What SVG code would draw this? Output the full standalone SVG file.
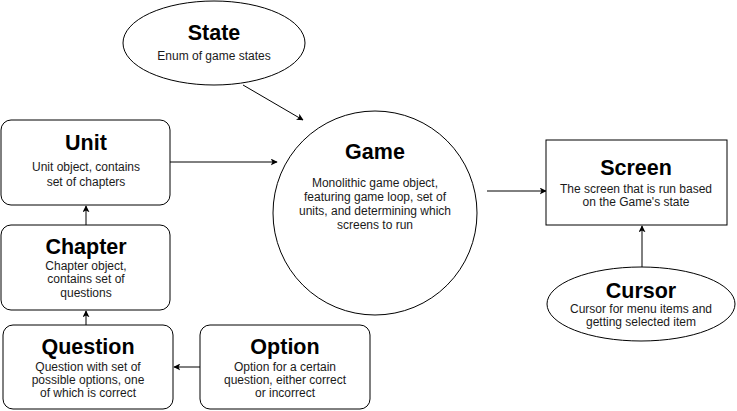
<svg xmlns="http://www.w3.org/2000/svg" width="737" height="411" viewBox="0 0 737 411">
<style>
.shape{fill:#fff;stroke:#000;stroke-width:1}
.t{font-family:"Liberation Sans",Arial,sans-serif;font-weight:bold;font-size:21.5px;text-anchor:middle;fill:#000}
.d{font-family:"Liberation Sans",Arial,sans-serif;font-size:12px;text-anchor:middle;fill:#1a1a1a}
.c{stroke:#000;stroke-width:1;fill:none;marker-end:url(#ah)}
</style>
<defs>
<marker id="ah" viewBox="0 0 10 10" refX="9" refY="5" markerWidth="7" markerHeight="7" markerUnits="userSpaceOnUse" orient="auto">
<path d="M0,0 L10,5 L0,10 L2.5,5 Z" fill="#000"/>
</marker>
</defs>
<rect width="737" height="411" fill="#fff"/>
<g id="connectors">
<line class="c" x1="243" y1="85" x2="303" y2="120"/>
<line class="c" x1="170" y1="162" x2="277" y2="162"/>
<line class="c" x1="86" y1="225" x2="86" y2="206"/>
<line class="c" x1="86" y1="325" x2="86" y2="311"/>
<line class="c" x1="200" y1="367" x2="174" y2="367"/>
<line class="c" x1="487" y1="191" x2="546" y2="191"/>
<line class="c" x1="642" y1="267" x2="642" y2="226"/>
</g>
<g id="state">
<ellipse class="shape" cx="214" cy="43" rx="91" ry="42"/>
<text class="t" x="214" y="40">State</text>
<text class="d" x="214" y="60">Enum of game states</text>
</g>
<g id="game">
<circle class="shape" cx="375" cy="213" r="102"/>
<text class="t" x="375" y="159">Game</text>
<text class="d" x="375" y="187">Monolithic game object,</text>
<text class="d" x="375" y="201">featuring game loop, set of</text>
<text class="d" x="375" y="215">units, and determining which</text>
<text class="d" x="375" y="229">screens to run</text>
</g>
<g id="unit">
<rect class="shape" x="1" y="120" width="169" height="85" rx="10"/>
<text class="t" x="86" y="150">Unit</text>
<text class="d" x="86" y="171">Unit object, contains</text>
<text class="d" x="86" y="186">set of chapters</text>
</g>
<g id="chapter">
<rect class="shape" x="1" y="225" width="169" height="85" rx="10"/>
<text class="t" x="86" y="254">Chapter</text>
<text class="d" x="86" y="270">Chapter object,</text>
<text class="d" x="86" y="283">contains set of</text>
<text class="d" x="86" y="297">questions</text>
</g>
<g id="question">
<rect class="shape" x="3" y="325" width="170" height="84" rx="10"/>
<text class="t" x="88" y="354">Question</text>
<text class="d" x="88" y="371">Question with set of</text>
<text class="d" x="88" y="384">possible options, one</text>
<text class="d" x="88" y="397">of which is correct</text>
</g>
<g id="option">
<rect class="shape" x="200" y="325" width="170" height="84" rx="10"/>
<text class="t" x="285" y="354">Option</text>
<text class="d" x="285" y="371">Option for a certain</text>
<text class="d" x="285" y="384">question, either correct</text>
<text class="d" x="285" y="397">or incorrect</text>
</g>
<g id="screen">
<rect class="shape" x="546" y="140" width="181" height="85"/>
<text class="t" x="636" y="175">Screen</text>
<text class="d" x="636" y="193">The screen that is run based</text>
<text class="d" x="636" y="206">on the Game's state</text>
</g>
<g id="cursor">
<ellipse class="shape" cx="641" cy="304" rx="94" ry="37"/>
<text class="t" x="641" y="298">Cursor</text>
<text class="d" x="641" y="313">Cursor for menu items and</text>
<text class="d" x="641" y="326">getting selected item</text>
</g>
</svg>
